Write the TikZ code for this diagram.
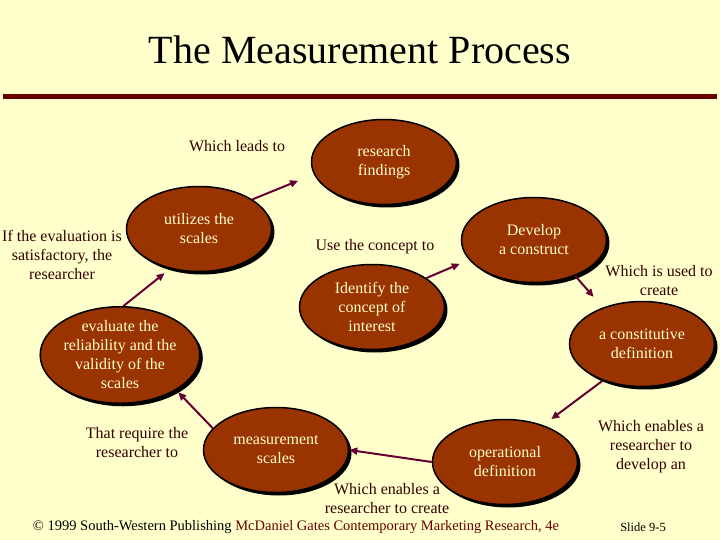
\documentclass[tikz,border=0pt]{standalone}
\usepackage{fontspec}
\setmainfont{Liberation Serif}
\usepackage{tikz}
\usetikzlibrary{shapes.geometric,shadows,arrows.meta}
\definecolor{SlideBg}{HTML}{FFFFCC}
\definecolor{StageFill}{HTML}{993300}
\definecolor{StageText}{HTML}{FFFFCC}
\definecolor{RuleRed}{HTML}{660000}
\definecolor{LinkMaroon}{HTML}{660033}
\definecolor{NoteBrown}{HTML}{330000}

\begin{document}
\begin{tikzpicture}[x=1pt, y=-1pt,
  stage/.style={ellipse, draw=black, line width=1.5pt, fill=StageFill, text=StageText,
    minimum width=145pt, minimum height=85pt, inner sep=0pt, align=center,
    font=\fontsize{16}{19}\selectfont,
    drop shadow={shadow xshift=3pt, shadow yshift=-3pt, fill=black, opacity=1}},
  note/.style={align=center, text=NoteBrown, inner sep=0pt, font=\fontsize{16}{19}\selectfont},
  link/.style={-{Triangle[length=8pt,width=7pt]}, line width=2pt, LinkMaroon}]
  \fill [SlideBg] (0,0) rectangle (720,540);
  \useasboundingbox (0,0) rectangle (720,540);

  % Title
  \node [font=\fontsize{40}{44}\selectfont] (title) at (360,50) {The Measurement Process};
  \draw [line width=5pt, RuleRed] (3,96.5) -- (717,96.5);

  % Nodes
  \node [stage] (res) at (384,162) {research\\findings};
  \node [stage] (util) at (199,229) {utilizes the\\scales};
  \node [stage] (dev) at (534,240) {Develop\\a construct};
  \node [stage] (ident) at (372,307) {Identify the\\concept of\\interest};
  \node [stage] (eval) at (120,355) {evaluate the\\reliability and the\\validity of the\\scales};
  \node [stage] (const) at (642,344) {a constitutive\\definition};
  \node [stage] (meas) at (276,450) {measurement\\scales};
  \node [stage] (oper) at (505,462) {operational\\definition};

  % Labels
  \node [note] (leads) at (237,146) {Which leads to};
  \node [note] (satis) at (62,255) {If the evaluation is\\satisfactory, the\\researcher};
  \node [note] (useto) at (375,247) {Use the concept to};
  \node [note] (usedto) at (659,281) {Which is used to\\create};
  \node [note] (require) at (137,443) {That require the\\researcher to};
  \node [note] (create) at (387,499) {Which enables a\\researcher to create};
  \node [note] (develop) at (651,447) {Which enables a\\researcher to\\develop an};
  \node [note, text=black, font=\fontsize{14.5}{17}\selectfont] (credit) at (296,527)
    {\textcopyright{} 1999 South-Western Publishing \textcolor{RuleRed}{McDaniel Gates Contemporary Marketing Research, 4e}};
  \node [note, text=black, font=\fontsize{12.5}{15}\selectfont] (slide) at (643,527) {Slide 9-5};

  % Paths
  \draw [link, shorten >=17pt] (util.29) -- (res.190);
  \draw [link, shorten >=7pt] (eval.86) -- (util.234);
  \draw [link, shorten >=3pt] (meas.161) -- (eval.328);
  \draw [link] (oper.west) -- (meas.east);
  \draw [link, shorten >=10pt] (const.223) -- (oper.44);
  \draw [link, shorten >=14pt] (dev.319) -- (const.137);
  \draw [link, shorten >=10pt] (ident.28) -- (dev.197);
\end{tikzpicture}
\end{document}
